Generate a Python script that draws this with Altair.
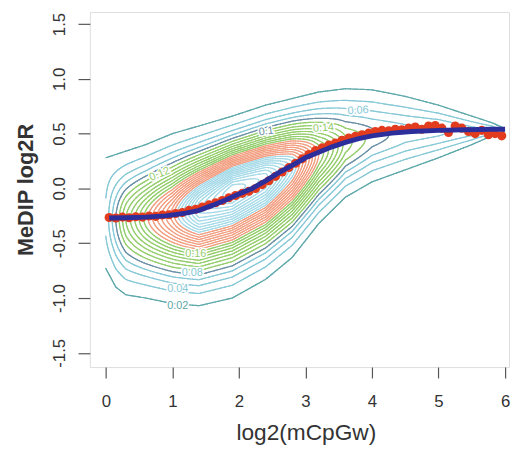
import numpy as np
import pandas as pd
import altair as alt

alt.data_transformers.disable_max_rows()

# ---------------- data ----------------
# density ridge of the 2-D contour plot, read per x column
col_x = [0.0, 0.15, 0.3, 0.6, 1.0, 1.4, 1.9, 2.4, 2.8, 3.2, 3.6, 4.0, 4.5, 5.0, 5.5, 5.8, 5.95, 6.05]
col_center = [-0.28, -0.28, -0.28, -0.27, -0.24, -0.17, -0.02, 0.10, 0.21, 0.31, 0.40, 0.46, 0.50, 0.52, 0.52, 0.53, 0.53, 0.53]
col_low02 = [-0.73, -0.90, -0.97, -1.00, -1.05, -1.07, -1.00, -0.83, -0.63, -0.32, -0.08, 0.06, 0.17, 0.28, 0.40, 0.48, 0.51, 0.53]
col_high02 = [0.28, 0.31, 0.34, 0.40, 0.50, 0.57, 0.66, 0.76, 0.82, 0.88, 0.91, 0.90, 0.84, 0.76, 0.66, 0.60, 0.56, 0.53]
col_peak = [0.045, 0.10, 0.16, 0.25, 0.37, 0.53, 0.60, 0.55, 0.43, 0.26, 0.15, 0.11, 0.09, 0.085, 0.07, 0.06, 0.035, 0.0]

levels = [0.02, 0.04, 0.06, 0.08, 0.10, 0.12, 0.14, 0.16, 0.18, 0.20, 0.22, 0.24,
          0.26, 0.28, 0.30, 0.32, 0.34, 0.36, 0.38, 0.40, 0.42, 0.44, 0.46, 0.48,
          0.50, 0.52, 0.54, 0.56, 0.58]
level_colors = ["#5ea8aa", "#86c8d6", "#86c8d6", "#86c8d6", "#6a8fa6",
                "#94cd6c", "#94cd6c", "#94cd6c", "#94cd6c", "#94cd6c", "#94cd6c", "#94cd6c",
                "#f29e80", "#f29e80", "#f29e80", "#f29e80", "#f29e80", "#f29e80", "#f29e80",
                "#a6dae8", "#a6dae8", "#a6dae8", "#a6dae8", "#a6dae8",
                "#a6dae8", "#a6dae8", "#a6dae8", "#a6dae8", "#a6dae8"]

# contour labels
lab_text = ["0.02", "0.04", "0.08", "0.16", "0.12", "0.1", "0.14", "0.06"]
lab_level = ["0.02", "0.04", "0.08", "0.16", "0.12", "0.10", "0.14", "0.06"]
lab_x = [1.08, 1.08, 1.30, 1.35, 0.81, 2.41, 3.27, 3.79]
lab_y = [-1.07, -0.92, -0.77, -0.60, 0.13, 0.52, 0.55, 0.71]
lab_angle = [0, 0, 0, 0, 338, 352, 355, 357]

# red points
red_x = [0.05, 0.15, 0.25, 0.35, 0.45, 0.55, 0.65, 0.75, 0.85, 0.95,
         1.05, 1.15, 1.25, 1.35, 1.45, 1.55, 1.65, 1.75, 1.85, 1.95,
         2.05, 2.15, 2.25, 2.35, 2.45, 2.55, 2.65, 2.75, 2.85, 2.95,
         3.05, 3.15, 3.25, 3.35, 3.45, 3.55, 3.65, 3.75, 3.85, 3.95,
         4.05, 4.15, 4.25, 4.35, 4.45, 4.55, 4.65, 4.75, 4.85, 4.95,
         5.05, 5.15, 5.25, 5.35, 5.45, 5.55, 5.65, 5.75, 5.85, 5.95]
red_y = [-0.265, -0.27, -0.262, -0.268, -0.258, -0.262, -0.252, -0.255, -0.243, -0.24,
         -0.228, -0.22, -0.20, -0.19, -0.17, -0.15, -0.13, -0.11, -0.085, -0.065,
         -0.045, -0.025, 0.0, 0.035, 0.07, 0.11, 0.15, 0.19, 0.23, 0.27,
         0.31, 0.345, 0.37, 0.395, 0.415, 0.44, 0.46, 0.475, 0.49, 0.505,
         0.52, 0.53, 0.525, 0.54, 0.535, 0.55, 0.56, 0.54, 0.57, 0.575,
         0.55, 0.51, 0.57, 0.55, 0.52, 0.50, 0.53, 0.49, 0.50, 0.48]

# blue smooth fit
blue_x = [0.05, 0.3, 0.6, 0.9, 1.2, 1.4, 1.6, 1.8, 2.0, 2.2, 2.4, 2.6, 2.8, 3.0,
          3.2, 3.4, 3.6, 3.8, 4.0, 4.3, 4.6, 5.0, 5.4, 5.8, 6.0]
blue_y = [-0.27, -0.268, -0.262, -0.25, -0.225, -0.20, -0.155, -0.105, -0.05, 0.0,
          0.07, 0.145, 0.21, 0.28, 0.33, 0.38, 0.42, 0.455, 0.48, 0.505, 0.52,
          0.53, 0.535, 0.54, 0.54]

# ---------------- density surface and contour lines ----------------
P = 1.8
gx = np.linspace(0.0, 6.05, 243)
gy = np.linspace(-1.45, 1.15, 261)
Hh = np.interp(gx, col_x, col_peak)
Cc = np.interp(gx, col_x, col_center)
LO = np.interp(gx, col_x, col_low02)
HI = np.interp(gx, col_x, col_high02)
R = np.where(Hh > 0.0205, np.log(np.maximum(Hh, 0.0205) / 0.02), 1.0) ** (1 / P)
SL = np.minimum(np.maximum(Cc - LO, 0.01) / R, 5.0)
SH = np.minimum(np.maximum(HI - Cc, 0.01) / R, 5.0)
D = gy[:, None] - Cc[None, :]
S = np.where(D < 0, SL[None, :], SH[None, :])
F = Hh[None, :] * np.exp(-(np.abs(D) / S) ** P)

TABLE = {1: [(3, 0)], 2: [(0, 1)], 3: [(3, 1)], 4: [(1, 2)], 5: [(3, 0), (1, 2)],
         6: [(0, 2)], 7: [(3, 2)], 8: [(2, 3)], 9: [(0, 2)], 10: [(0, 1), (2, 3)],
         11: [(1, 2)], 12: [(3, 1)], 13: [(0, 1)], 14: [(3, 0)]}


def contour_segments(F, gx, gy, L):
    v00 = F[:-1, :-1]; v10 = F[:-1, 1:]; v01 = F[1:, :-1]; v11 = F[1:, 1:]
    shp = v00.shape
    X0 = np.broadcast_to(gx[:-1][None, :], shp); X1 = np.broadcast_to(gx[1:][None, :], shp)
    Y0 = np.broadcast_to(gy[:-1][:, None], shp); Y1 = np.broadcast_to(gy[1:][:, None], shp)
    case = (v00 > L).astype(int) + 2 * (v10 > L) + 4 * (v11 > L) + 8 * (v01 > L)
    with np.errstate(divide="ignore", invalid="ignore"):
        t0 = (L - v00) / (v10 - v00); t1 = (L - v10) / (v11 - v10)
        t2 = (L - v01) / (v11 - v01); t3 = (L - v00) / (v01 - v00)
    E = [(X0 + t0 * (X1 - X0), Y0), (X1, Y0 + t1 * (Y1 - Y0)),
         (X0 + t2 * (X1 - X0), Y1), (X0, Y0 + t3 * (Y1 - Y0))]
    out = []
    for c, pairs in TABLE.items():
        m = case == c
        if not m.any():
            continue
        for a, b in pairs:
            out.append(np.column_stack([E[a][0][m], E[a][1][m], E[b][0][m], E[b][1][m]]))
    return np.vstack(out) if out else np.zeros((0, 4))


lev_names = [f"{L:.2f}" for L in levels]
frames = []
for L, name in zip(levels, lev_names):
    seg = contour_segments(F, gx, gy, L)
    if len(seg):
        d = pd.DataFrame(np.round(seg, 4), columns=["x", "y", "x2", "y2"])
        d["lev"] = name
        frames.append(d)
seg_df = pd.concat(frames, ignore_index=True)

lab_df = pd.DataFrame({"x": lab_x, "y": lab_y, "t": lab_text, "lev": lab_level, "ang": lab_angle})
red_df = pd.DataFrame({"x": red_x, "y": red_y})
blue_df = pd.DataFrame({"x": blue_x, "y": blue_y})

# ---------------- chart ----------------
FONT = "Liberation Sans"
xscale = alt.Scale(domain=[-0.24, 6.06], nice=False, zero=False)
yscale = alt.Scale(domain=[-1.63, 1.61], nice=False, zero=False)
xaxis = alt.Axis(values=[0, 1, 2, 3, 4, 5, 6], format="d", domain=False, grid=False,
                 tickSize=11, tickColor="#555555", tickWidth=1.2,
                 labelFont=FONT, labelFontSize=17, labelColor="#333333", labelPadding=16,
                 title="log2(mCpGw)", titleFont=FONT, titleFontSize=23, titleFontWeight="normal",
                 titleColor="#333333", titleX=219, titleY=73, titleBaseline="alphabetic")
yaxis = alt.Axis(values=[-1.5, -1.0, -0.5, 0.0, 0.5, 1.0, 1.5], domain=False, grid=False,
                 labelExpr="datum.value < 0 ? '-' + format(-datum.value, '.1f') : format(datum.value, '.1f')",
                 tickSize=12, tickColor="#555555", tickWidth=1.2,
                 labelFont=FONT, labelFontSize=17, labelColor="#333333", labelPadding=14,
                 labelAngle=270, labelAlign="center", labelBaseline="alphabetic",
                 title="MeDIP log2R", titleFont=FONT, titleFontSize=22, titleFontWeight="bold",
                 titleColor="#333333", titleAngle=270, titleX=-58, titleY=180,
                 titleAlign="center", titleBaseline="alphabetic")

X = alt.X("x:Q", scale=xscale, axis=xaxis)
Y = alt.Y("y:Q", scale=yscale, axis=yaxis)
color = alt.Color("lev:N", scale=alt.Scale(domain=lev_names, range=level_colors), legend=None)

contours = alt.Chart(seg_df).mark_rule(strokeWidth=1.2, strokeCap="round").encode(
    x=X, y=Y, x2="x2:Q", y2="y2:Q", color=color)
halo = alt.Chart(lab_df).mark_text(font=FONT, fontSize=11, fill="white", stroke="white",
                                   strokeWidth=3).encode(
    x=X, y=Y, text="t:N", angle=alt.Angle("ang:Q", scale=None))
labels = alt.Chart(lab_df).mark_text(font=FONT, fontSize=11).encode(
    x=X, y=Y, text="t:N", angle=alt.Angle("ang:Q", scale=None), color=color)
dots = alt.Chart(red_df).mark_circle(size=85, color="#e23b1d", opacity=1).encode(x=X, y=Y)
line = alt.Chart(blue_df).mark_line(color="#2c2f9b", strokeWidth=5).encode(x=X, y=Y)

chart = alt.layer(contours, halo, labels, dots, line).properties(
    width=425, height=360,
    autosize=alt.AutoSizeParams(type="none"),
    padding={"left": 83, "top": 1, "right": 4, "bottom": 80},
).configure_view(stroke="#555555", strokeWidth=1.5).configure(background="white")

chart.save("out.html", embed_options={"renderer": "svg", "actions": False})
